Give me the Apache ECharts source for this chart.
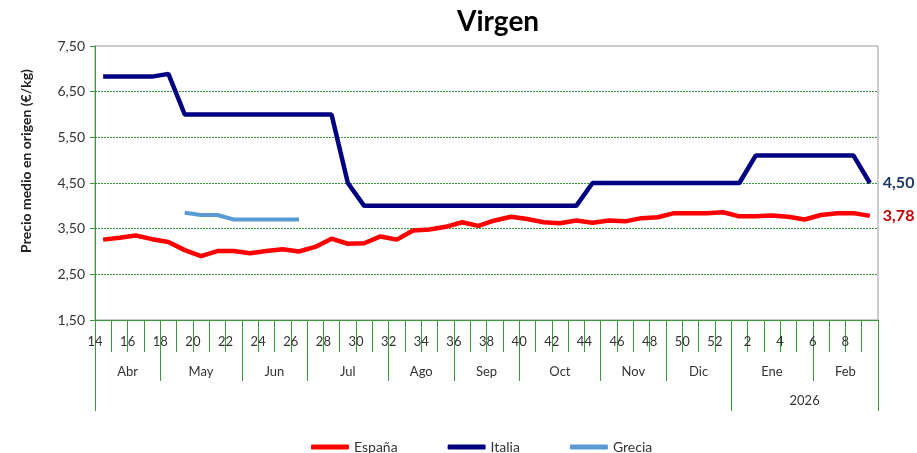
<!DOCTYPE html>
<html>
<head>
<meta charset="utf-8">
<script src="https://cdn.jsdelivr.net/npm/echarts@6/dist/echarts.min.js"></script>
<style>
  html, body { margin: 0; padding: 0; background: #fff; }
  #chart { width: 917px; height: 453px; }
</style>
</head>
<body>
<div id="chart"></div>
<script>
// semanas: 14..52 de 2025 y 1..9 de 2026
const weeks = [14, 15, 16, 17, 18, 19, 20, 21, 22, 23, 24, 25, 26, 27, 28, 29, 30, 31, 32, 33,
  34, 35, 36, 37, 38, 39, 40, 41, 42, 43, 44, 45, 46, 47, 48, 49, 50, 51, 52,
  1, 2, 3, 4, 5, 6, 7, 8, 9]

const months = ['Abr', 'May', 'Jun', 'Jul', 'Ago', 'Sep', 'Oct', 'Nov', 'Dic', 'Ene', 'Feb']
const monthStartWeeks = [14, 18, 23, 27, 32, 36, 40, 45, 49, 1, 6]
const yearLabel = '2026'
const yearStartWeek = 1

const spain = [3.26, 3.30, 3.35, 3.27, 3.21, 3.03, 2.90, 3.01, 3.01, 2.96, 3.01, 3.05, 3.00, 3.10,
  3.28, 3.17, 3.18, 3.33, 3.26, 3.46, 3.48, 3.54, 3.64, 3.56, 3.68, 3.76, 3.71, 3.64, 3.62,
  3.68, 3.63, 3.68, 3.66, 3.73, 3.75, 3.84, 3.84, 3.84, 3.86, 3.77, 3.77, 3.79, 3.76, 3.70,
  3.80, 3.84, 3.84, 3.78]

const italy = [6.83, 6.83, 6.83, 6.83, 6.89, 6.00, 6.00, 6.00, 6.00, 6.00, 6.00, 6.00, 6.00, 6.00,
  6.00, 4.50, 4.00, 4.00, 4.00, 4.00, 4.00, 4.00, 4.00, 4.00, 4.00, 4.00, 4.00, 4.00, 4.00,
  4.00, 4.50, 4.50, 4.50, 4.50, 4.50, 4.50, 4.50, 4.50, 4.50, 4.50, 5.10, 5.10, 5.10, 5.10,
  5.10, 5.10, 5.10, 4.50]

const greece = [null, null, null, null, null, 3.85, 3.80, 3.80, 3.70, 3.70, 3.70, 3.70, 3.70, null,
  null, null, null, null, null, null, null, null, null, null, null, null, null, null, null,
  null, null, null, null, null, null, null, null, null, null, null, null, null, null, null,
  null, null, null, null]

const yTicks = [1.5, 2.5, 3.5, 4.5, 5.5, 6.5, 7.5]

const FONT = 'Lato'
const GREEN = '#3a9a3a'
const n = weeks.length

// limites de mes como posiciones de categoria
const monthBounds = monthStartWeeks.map(w => weeks.indexOf(w)).concat([n])
const monthCenters = months.map((m, i) => (monthBounds[i] + monthBounds[i + 1]) / 2)
const yearStart = weeks.indexOf(yearStartWeek)
const weekLabelPos = []
for (let i = 0; i < n; i += 2) weekLabelPos.push(i)

const fmt = v => v.toFixed(2).replace('.', ',')

const chart = echarts.init(document.getElementById('chart'))
const option = {
  animation: false,
  textStyle: { fontFamily: FONT },
  title: {
    text: 'Virgen',
    left: 452,
    top: 3,
    textStyle: { fontFamily: FONT, fontSize: 28, fontWeight: 'bold', color: '#000' }
  },
  legend: {
    bottom: -6,
    left: 306,
    icon: 'roundRect',
    itemWidth: 38,
    itemHeight: 5,
    itemGap: 50,
    textStyle: { fontFamily: FONT, fontSize: 14, color: '#333' },
    data: ['España', 'Italia', 'Grecia']
  },
  grid: {
    left: 95,
    right: 39,
    top: 46,
    bottom: 133,
    outerBoundsMode: 'none',
    containLabel: false,
    show: true,
    borderColor: '#999',
    borderWidth: 1
  },
  xAxis: [
    {
      type: 'category',
      position: 'bottom',
      data: weeks,
      boundaryGap: true,
      axisLine: { lineStyle: { color: GREEN, width: 1 } },
      axisTick: { show: true, interval: 0, length: 32, lineStyle: { color: GREEN } },
      axisLabel: { show: false },
      splitLine: { show: false }
    },
    {
      type: 'value',
      position: 'bottom',
      min: 0,
      max: n,
      axisLine: { show: false },
      axisTick: { show: false },
      splitLine: { show: false },
      axisLabel: {
        customValues: weekLabelPos,
        formatter: v => String(weeks[v]),
        margin: 15,
        fontSize: 13,
        color: '#333',
        fontFamily: FONT
      }
    },
    {
      type: 'value',
      position: 'bottom',
      min: 0,
      max: n,
      axisLine: { show: false },
      splitLine: { show: false },
      axisTick: { show: true, customValues: monthBounds, length: 61, lineStyle: { color: GREEN } },
      axisLabel: {
        customValues: monthCenters,
        formatter: v => months[monthCenters.indexOf(v)],
        margin: 45,
        fontSize: 13,
        color: '#333',
        fontFamily: FONT
      }
    },
    {
      type: 'value',
      position: 'bottom',
      min: 0,
      max: n,
      axisLine: { show: false },
      splitLine: { show: false },
      axisTick: { show: true, customValues: [0, yearStart, n], length: 91, lineStyle: { color: GREEN } },
      axisLabel: {
        customValues: [(yearStart + n) / 2],
        formatter: () => yearLabel,
        margin: 74,
        fontSize: 13,
        color: '#333',
        fontFamily: FONT
      }
    }
  ],
  yAxis: {
    type: 'value',
    min: yTicks[0],
    max: yTicks[yTicks.length - 1],
    interval: 1,
    name: 'Precio medio en origen (€/kg)',
    nameLocation: 'middle',
    nameGap: 62,
    nameTextStyle: {
      fontFamily: FONT, fontSize: 14, fontWeight: 'bold', color: '#222',
      padding: [0, 0, 0, 44]
    },
    axisLine: { show: true, lineStyle: { color: GREEN } },
    axisTick: { show: true, length: 5, lineStyle: { color: GREEN } },
    axisLabel: { formatter: fmt, fontSize: 14, color: '#333', margin: 10, fontFamily: FONT },
    splitLine: {
      showMaxLine: false,
      showMinLine: false,
      lineStyle: { color: GREEN, type: [2, 1], width: 1 }
    }
  },
  series: [
    {
      name: 'España',
      type: 'line',
      data: spain,
      symbol: 'none',
      color: '#ff0000',
      lineStyle: { width: 4.5 },
      endLabel: {
        show: true,
        formatter: p => fmt(p.value),
        distance: 13,
        fontFamily: FONT,
        fontSize: 16,
        fontWeight: 'bold',
        color: '#c00000'
      }
    },
    {
      name: 'Italia',
      type: 'line',
      data: italy,
      symbol: 'none',
      color: '#000080',
      lineStyle: { width: 4.5 },
      endLabel: {
        show: true,
        formatter: p => fmt(p.value),
        distance: 13,
        fontFamily: FONT,
        fontSize: 16,
        fontWeight: 'bold',
        color: '#1f3864'
      }
    },
    {
      name: 'Grecia',
      type: 'line',
      data: greece,
      symbol: 'none',
      color: '#5b9bd5',
      lineStyle: { width: 4 }
    }
  ]
}
chart.setOption(option)
</script>
</body>
</html>
